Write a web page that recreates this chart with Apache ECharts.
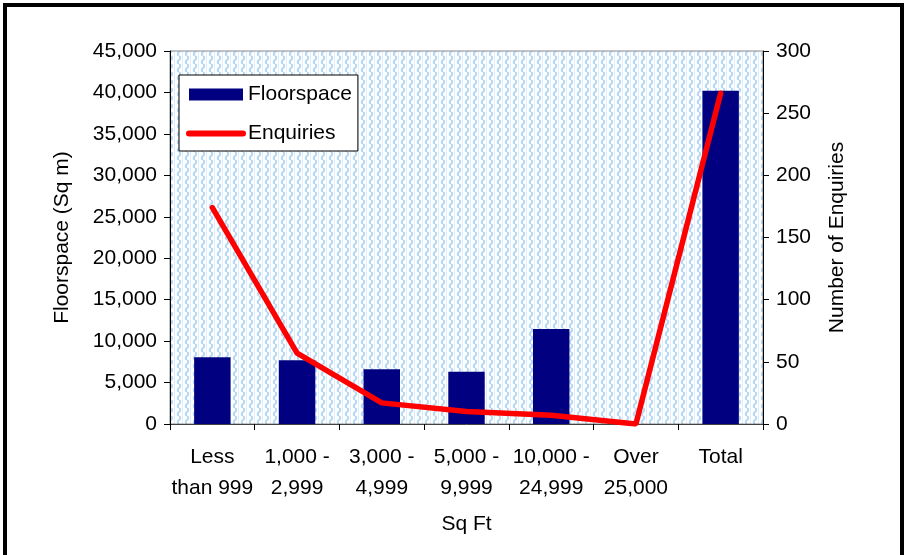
<!DOCTYPE html>
<html><head><meta charset="utf-8">
<script src="https://cdn.jsdelivr.net/npm/echarts@6/dist/echarts.min.js"></script>
<style>html,body{margin:0;padding:0;background:#fff;}#c{width:906px;height:555px;}</style>
</head><body><div id="c"></div>
<script>
const categories = ['Less\nthan 999', '1,000 -\n2,999', '3,000 -\n4,999', '5,000 -\n9,999', '10,000 -\n24,999', 'Over\n25,000', 'Total'];
const floorspace = [8050, 7700, 6600, 6300, 11450, 0, 40200];
const enquiries = [174, 57, 17, 10, 7, 0, 266];

// hatch pattern
const pc = document.createElement('canvas');
pc.width = 8; pc.height = 8;
const px = pc.getContext('2d');
px.fillStyle = '#ffffff'; px.fillRect(0, 0, 8, 8);
px.strokeStyle = '#b3d8f4'; px.lineWidth = 2;
px.beginPath();
px.moveTo(3, 0); px.quadraticCurveTo(5.5, 2, 3, 4); px.quadraticCurveTo(0.5, 6, 3, 8);
px.stroke();
px.strokeStyle = '#dcedf9'; px.lineWidth = 1;
px.beginPath(); px.moveTo(6.5, 0); px.lineTo(6.5, 8); px.stroke();

const font = 'Liberation Sans, Arial, sans-serif';
const fs = 21;
const chart = echarts.init(document.getElementById('c'), null, {renderer: 'canvas'});
chart.setOption({
  animation: false,
  textStyle: {fontFamily: font},
  grid: {left: 170, right: 143, top: 51, bottom: 131, show: true,
    backgroundColor: {image: pc, repeat: 'repeat'}, borderColor: '#888', borderWidth: 1},
  legend: {
    left: 179, top: 75, orient: 'vertical', itemWidth: 54, itemHeight: 12, itemGap: 18,
    backgroundColor: '#fff', borderColor: '#000', borderWidth: 1,
    padding: [9, 6, 7, 7],
    textStyle: {fontFamily: font, fontSize: fs, color: '#000'},
    data: [{name: 'Floorspace', icon: 'rect'},
           {name: 'Enquiries', itemStyle: {color: 'rgba(0,0,0,0)', borderWidth: 0},
            lineStyle: {width: 6, color: '#ff0000', cap: 'round'}}]
  },
  xAxis: {
    type: 'category', data: categories,
    name: 'Sq Ft', nameLocation: 'middle', nameGap: 90,
    nameTextStyle: {fontFamily: font, fontSize: fs, color: '#000'},
    axisLine: {lineStyle: {color: '#444', width: 1}},
    axisTick: {show: true, length: 6, lineStyle: {color: '#000'}},
    axisLabel: {fontFamily: font, fontSize: fs, color: '#000', margin: 18, lineHeight: 31, interval: 0}
  },
  yAxis: [{
    type: 'value', min: 0, max: 45000, interval: 5000,
    name: 'Floorspace (Sq m)', nameLocation: 'middle', nameGap: 97,
    nameTextStyle: {fontFamily: font, fontSize: fs, color: '#000'},
    axisLine: {show: true, lineStyle: {color: '#000'}},
    axisTick: {show: true, length: 6, lineStyle: {color: '#000'}},
    splitLine: {show: false},
    axisLabel: {fontFamily: font, fontSize: fs, color: '#000', margin: 13,
      formatter: v => v.toLocaleString('en-US')}
  }, {
    type: 'value', min: 0, max: 300, interval: 50,
    name: 'Number of Enquiries', nameLocation: 'middle', nameGap: 64,
    nameTextStyle: {fontFamily: font, fontSize: fs, color: '#000'},
    axisLine: {show: true, lineStyle: {color: '#000'}},
    axisTick: {show: true, length: 6, lineStyle: {color: '#000'}},
    splitLine: {show: false},
    axisLabel: {fontFamily: font, fontSize: fs, color: '#000', margin: 13}
  }],
  series: [{
    name: 'Floorspace', type: 'bar', data: floorspace, barWidth: '43%',
    itemStyle: {color: '#000080', borderWidth: 0}
  }, {
    name: 'Enquiries', type: 'line', yAxisIndex: 1, data: enquiries,
    symbol: 'none', lineStyle: {color: '#ff0000', width: 5.5, cap: 'round'}, itemStyle: {color: '#ff0000'}
  }],
  graphic: [{
    type: 'rect', shape: {x: 5, y: 5, width: 897, height: 600},
    style: {fill: 'none', stroke: '#000', lineWidth: 4}, silent: true
  }]
});
</script></body></html>
